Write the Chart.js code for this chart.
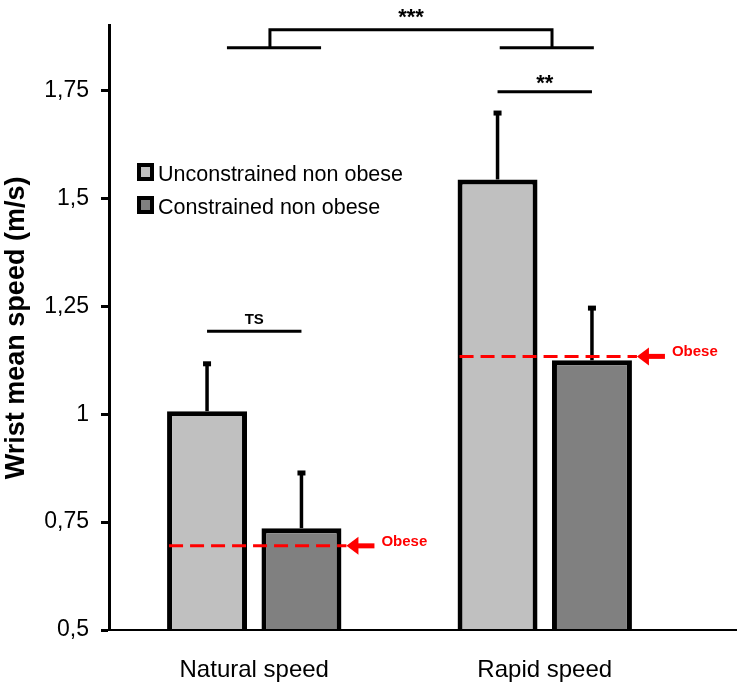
<!DOCTYPE html>
<html>
<head>
<meta charset="utf-8">
<script src="https://cdn.jsdelivr.net/npm/chart.js@4.4.0/dist/chart.umd.min.js"></script>
<style>
  body { margin: 0; background: #fff; }
</style>
</head>
<body>
<canvas id="chart" width="744" height="691"></canvas>
<script>
// data
var categories = ['Natural speed', 'Rapid speed'];
var seriesNames = ['Unconstrained non obese', 'Constrained non obese'];
var unconstrained = [1.007, 1.544];
var constrained = [0.736, 1.125];
var unconstrainedSD = [0.111, 0.155];
var constrainedSD = [0.129, 0.122];
var obese = [0.695, 1.134];
var yTicks = [0.5, 0.75, 1, 1.25, 1.5, 1.75];

var FONT = "'Liberation Sans', Arial, sans-serif";
var colors = ['#c0c0c0', '#808080'];

function tickText(v) {
  return String(v).replace('.', ',');
}

// error bars, obese reference lines, significance marks, legend
var extras = {
  id: 'extras',
  afterDatasetsDraw: function(chart) {
    var ctx = chart.ctx;
    var xs = chart.scales.x, ys = chart.scales.y, area = chart.chartArea;
    var m0 = chart.getDatasetMeta(0), m1 = chart.getDatasetMeta(1);
    var sds = [unconstrainedSD, constrainedSD];
    var vals = [unconstrained, constrained];

    ctx.save();

    // x axis line, runs past the last category
    ctx.strokeStyle = '#000';
    ctx.lineWidth = 2;
    ctx.beginPath();
    ctx.moveTo(area.left, area.bottom);
    ctx.lineTo(737, area.bottom);
    ctx.stroke();

    // error bars
    [m0, m1].forEach(function(meta, d) {
      meta.data.forEach(function(bar, i) {
        var top = ys.getPixelForValue(vals[d][i] + sds[d][i]);
        ctx.lineWidth = 3.5;
        ctx.beginPath();
        ctx.moveTo(bar.x, bar.y);
        ctx.lineTo(bar.x, top);
        ctx.stroke();
        ctx.fillStyle = '#000';
        ctx.fillRect(bar.x - 4, top - 2, 8, 5);
      });
    });

    // obese reference
    for (var i = 0; i < obese.length; i++) {
      var b0 = m0.data[i], b1 = m1.data[i];
      var left = b0.x - b0.width / 2 + 2;
      var tip = b1.x + b1.width / 2 + 5;
      var py = ys.getPixelForValue(obese[i]);
      ctx.strokeStyle = '#ff0000';
      ctx.fillStyle = '#ff0000';
      ctx.lineWidth = 3;
      ctx.setLineDash([14, 7]);
      ctx.beginPath();
      ctx.moveTo(left, py);
      ctx.lineTo(tip, py);
      ctx.stroke();
      ctx.setLineDash([]);
      ctx.fillRect(tip + 10, py - 2.5, 18, 5);
      ctx.beginPath();
      ctx.moveTo(tip, py);
      ctx.lineTo(tip + 12, py - 9);
      ctx.lineTo(tip + 12, py + 9);
      ctx.closePath();
      ctx.fill();
      ctx.font = 'bold 15px ' + FONT;
      ctx.textAlign = 'left';
      ctx.textBaseline = 'alphabetic';
      ctx.fillText('Obese', tip + 35, py);
    }

    // significance marks
    ctx.strokeStyle = '#000';
    ctx.fillStyle = '#000';
    ctx.lineWidth = 3;
    ctx.textAlign = 'center';
    ctx.textBaseline = 'alphabetic';
    function hline(x1, x2, v) {
      var p = ys.getPixelForValue(v);
      ctx.beginPath();
      ctx.moveTo(x1, p);
      ctx.lineTo(x2, p);
      ctx.stroke();
    }
    // TS within natural speed
    hline(m0.data[0].x, m1.data[0].x, 1.192);
    ctx.font = 'bold 15px ' + FONT;
    ctx.fillText('TS', (m0.data[0].x + m1.data[0].x) / 2, ys.getPixelForValue(1.210));
    // ** within rapid speed
    hline(m0.data[1].x, m1.data[1].x, 1.747);
    ctx.font = 'bold 22px ' + FONT;
    ctx.fillText('**', (m0.data[1].x + m1.data[1].x) / 2, ys.getPixelForValue(1.752));
    // *** between speeds
    hline(xs.getPixelForValue(-0.094), xs.getPixelForValue(0.23), 1.849);
    hline(xs.getPixelForValue(0.845), xs.getPixelForValue(1.169), 1.849);
    var bl = xs.getPixelForValue(0.054), br = xs.getPixelForValue(1.025);
    var lo = ys.getPixelForValue(1.849), hi = ys.getPixelForValue(1.891);
    ctx.beginPath();
    ctx.moveTo(bl, lo);
    ctx.lineTo(bl, hi);
    ctx.lineTo(br, hi);
    ctx.lineTo(br, lo);
    ctx.stroke();
    ctx.fillText('***', (bl + br) / 2, ys.getPixelForValue(1.905));

    // legend
    ctx.textAlign = 'left';
    ctx.font = '21.5px ' + FONT;
    for (var k = 0; k < seriesNames.length; k++) {
      var ly = 163 + k * 33;
      ctx.fillStyle = '#000';
      ctx.fillRect(137, ly, 17, 18);
      ctx.fillStyle = colors[k];
      ctx.fillRect(141, ly + 4, 9, 10);
      ctx.fillStyle = '#000';
      ctx.fillText(seriesNames[k], 158, ly + 18);
    }

    ctx.restore();
  }
};

var chart = new Chart(document.getElementById('chart'), {
  type: 'bar',
  data: {
    labels: categories,
    datasets: [
      {
        label: seriesNames[0],
        data: unconstrained,
        backgroundColor: colors[0],
        borderColor: '#000',
        borderWidth: 5,
        borderSkipped: false
      },
      {
        label: seriesNames[1],
        data: constrained,
        backgroundColor: colors[1],
        borderColor: '#000',
        borderWidth: 5,
        borderSkipped: false
      }
    ]
  },
  options: {
    responsive: false,
    animation: false,
    layout: { padding: { left: 0, top: 25, right: 54, bottom: 0 } },
    categoryPercentage: 0.65,
    barPercentage: 0.847,
    plugins: {
      legend: { display: false },
      tooltip: { enabled: false }
    },
    scales: {
      x: {
        grid: { display: false, drawTicks: false },
        border: { display: false },
        ticks: {
          color: '#000',
          padding: 26,
          font: { family: FONT, size: 24 }
        },
        afterFit: function(s) { s.height = 61; }
      },
      y: {
        min: 0.5,
        max: 1.9,
        afterBuildTicks: function(s) {
          s.ticks = yTicks.map(function(v) { return { value: v }; });
        },
        grid: {
          display: true,
          drawOnChartArea: false,
          drawTicks: true,
          tickLength: 8,
          tickWidth: 3,
          tickColor: '#000'
        },
        border: { display: true, color: '#000', width: 3 },
        ticks: {
          color: '#000',
          padding: 12,
          font: { family: FONT, size: 23 },
          callback: function(v) { return tickText(v); }
        },
        title: {
          display: true,
          text: 'Wrist mean speed (m/s)',
          color: '#000',
          padding: { top: 0, bottom: 0 },
          font: { family: FONT, size: 27, weight: 'bold' }
        },
        afterFit: function(s) { s.width = 109; }
      }
    }
  },
  plugins: [extras]
});
</script>
</body>
</html>
